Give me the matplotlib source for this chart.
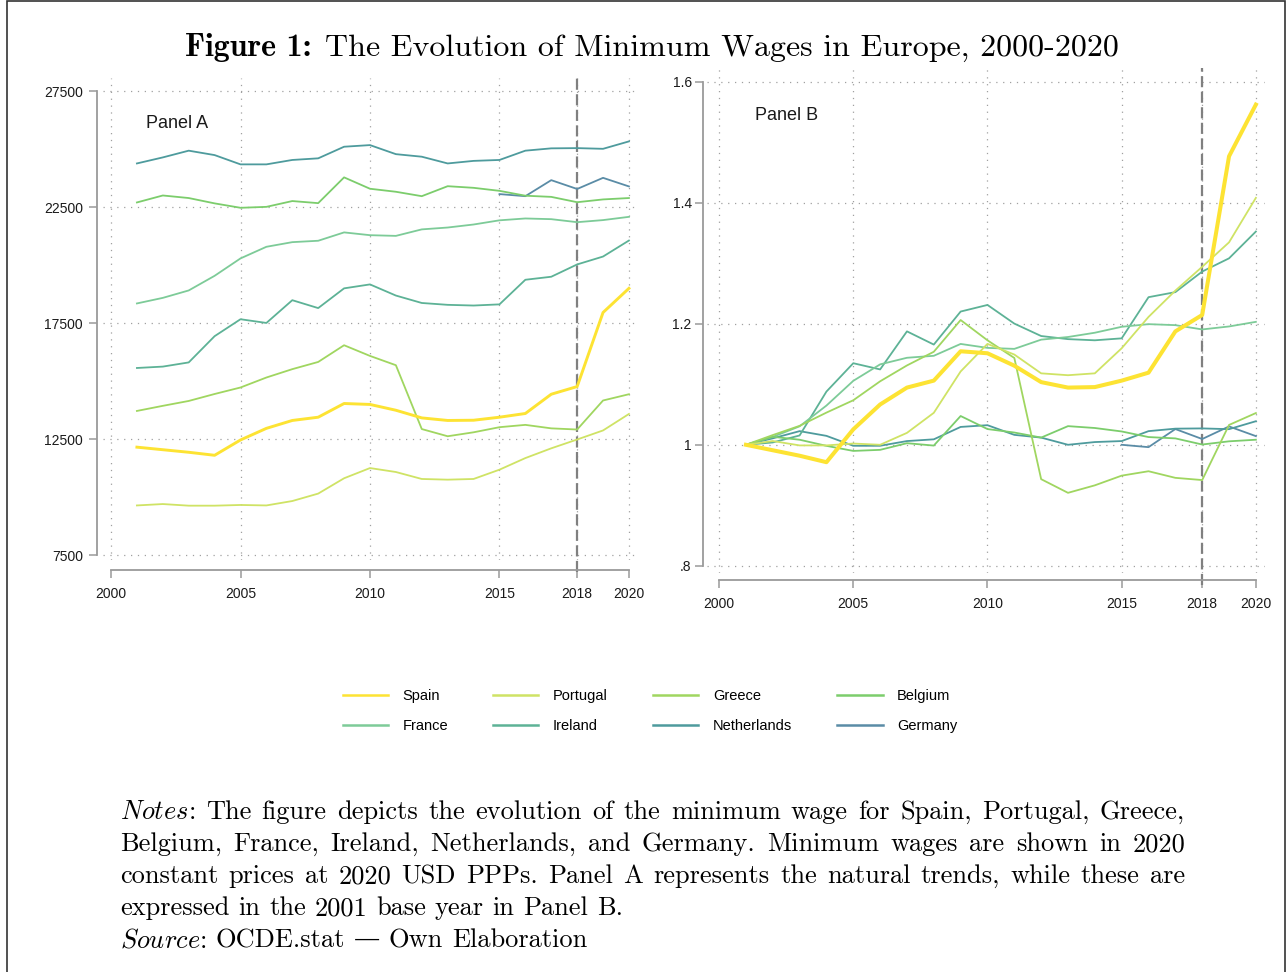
import matplotlib
matplotlib.use("Agg")
import matplotlib.pyplot as plt
from matplotlib.lines import Line2D
from matplotlib.patches import Rectangle
import numpy as np

plt.rcParams['font.family'] = ['Liberation Sans', 'DejaVu Sans']

# ---- data: annual minimum wage, 2020 constant prices, 2020 USD PPPs ----
years = list(range(2001, 2021))
germany_years = list(range(2015, 2021))

spain = [12160, 12050, 11940, 11810, 12470, 12970, 13310, 13450, 14040, 14000,
         13750, 13420, 13310, 13320, 13450, 13610, 14440, 14770, 17960, 19000]
portugal = [9650, 9710, 9640, 9640, 9670, 9650, 9840, 10160, 10820, 11260,
            11090, 10790, 10760, 10790, 11190, 11690, 12110, 12490, 12880, 13590]
greece = [13720, 13940, 14150, 14450, 14730, 15160, 15520, 15830, 16550, 16090,
          15690, 12940, 12630, 12800, 13020, 13120, 12970, 12920, 14170, 14440]
belgium = [22700, 23000, 22890, 22660, 22470, 22510, 22760, 22670, 23780, 23290,
           23160, 22970, 23400, 23330, 23200, 22990, 22940, 22710, 22830, 22890]
france = [18350, 18590, 18910, 19540, 20290, 20790, 20990, 21050, 21410, 21290,
          21260, 21540, 21620, 21750, 21930, 22010, 21980, 21850, 21940, 22080]
ireland = [15570, 15630, 15810, 16940, 17670, 17510, 18490, 18150, 19000, 19170,
           18690, 18370, 18290, 18260, 18310, 19370, 19500, 20030, 20370, 21060]
netherlands = [24380, 24640, 24930, 24740, 24340, 24340, 24530, 24600, 25100, 25170,
               24780, 24670, 24380, 24490, 24530, 24930, 25030, 25040, 25010, 25330]
germany = [23060, 22970, 23660, 23280, 23760, 23390]

countries = ["Spain", "Portugal", "Greece", "Belgium",
             "France", "Ireland", "Netherlands", "Germany"]
series = {
    "Spain": (years, spain),
    "Portugal": (years, portugal),
    "Greece": (years, greece),
    "Belgium": (years, belgium),
    "France": (years, france),
    "Ireland": (years, ireland),
    "Netherlands": (years, netherlands),
    "Germany": (germany_years, germany),
}
colors = {
    "Spain": "#FDE333",
    "Portugal": "#CFE365",
    "Greece": "#A0D660",
    "Belgium": "#7CCD6C",
    "France": "#7DCB98",
    "Ireland": "#5DB296",
    "Netherlands": "#4E9B9D",
    "Germany": "#5A8CA6",
}

xticks = [2000, 2005, 2010, 2015, 2018, 2020]
yticks_a = [7500, 12500, 17500, 22500, 27500]
yticks_b = [0.8, 1.0, 1.2, 1.4, 1.6]
ylabels_b = [".8", "1", "1.2", "1.4", "1.6"]
policy_year = 2018

# ---- figure ----
W, H = 1288, 972
fig = plt.figure(figsize=(W / 100, H / 100), dpi=100)


def px_rect(l, t, r, b):
    return [l / W, 1 - b / H, (r - l) / W, (b - t) / H]


axA = fig.add_axes(px_rect(103, 78, 638, 560))
axB = fig.add_axes(px_rect(707, 68, 1265, 573))

spine_col = "#9a9a9a"


def style(ax, xlim, ylim, yticks, ylabels, yout, xout, ypad, xpad):
    ax.set_xlim(*xlim)
    ax.set_ylim(*ylim)
    for s in ("top", "right"):
        ax.spines[s].set_visible(False)
    ax.spines["left"].set_position(("outward", yout))
    ax.spines["bottom"].set_position(("outward", xout))
    ax.spines["left"].set_bounds(yticks[0], yticks[-1])
    ax.spines["bottom"].set_bounds(xticks[0], xticks[-1])
    for s in ("left", "bottom"):
        ax.spines[s].set_color(spine_col)
        ax.spines[s].set_linewidth(1.3)
    ax.set_xticks(xticks)
    ax.set_xticklabels([str(x) for x in xticks])
    ax.set_yticks(yticks)
    ax.set_yticklabels(ylabels)
    ax.tick_params(length=6, width=1.1, color=spine_col, labelsize=10,
                   labelcolor="#1a1a1a")
    ax.tick_params(axis="y", pad=ypad)
    ax.tick_params(axis="x", pad=xpad)
    ax.grid(True, linestyle=(0, (1, 4.5)), color="#a0a0a0", lw=0.9)
    ax.set_axisbelow(True)
    ax.axvline(policy_year, ymin=-0.024, ymax=1, color="#808080", lw=1.6,
               dashes=(5, 2), clip_on=False, zorder=1)


style(axA, (1999.69, 2020.35), (7300, 28060), yticks_a,
      [str(v) for v in yticks_a], 4.5, 7.5, 4, 6)
style(axB, (1999.55, 2020.34), (0.788, 1.623), yticks_b, ylabels_b,
      3, 5, 2, 6)

for name in countries[::-1]:
    xs, vals = series[name]
    vals = np.asarray(vals, dtype=float)
    thick = name == "Spain"
    z = 5 if thick else 3
    axA.plot(xs, vals, color=colors[name], lw=2.1 if thick else 1.3, zorder=z)
    axB.plot(xs, vals / vals[0], color=colors[name], lw=2.9 if thick else 1.3,
             zorder=z)

fig.text(146 / W, 1 - 124 / H, "Panel A", fontsize=13, ha="left", va="center",
         color="#1a1a1a")
fig.text(755 / W, 1 - 116 / H, "Panel B", fontsize=13, ha="left", va="center",
         color="#1a1a1a")

# ---- legend: row-major order across four columns ----
order = ["Spain", "France", "Portugal", "Ireland",
         "Greece", "Netherlands", "Belgium", "Germany"]
handles = [Line2D([], [], color=colors[n], lw=1.8) for n in order]
fig.legend(handles, order, ncol=4, loc="center",
           bbox_to_anchor=(650 / W, 1 - 711 / H), frameon=False, fontsize=10.5,
           handlelength=3.1, handletextpad=1.0, columnspacing=3.1,
           labelspacing=1.05)

# ---- title and notes ----
serif = ["cmr10", "DejaVu Serif"]
serif_bold = ["cmb10", "DejaVu Serif"]
renderer = fig.canvas.get_renderer()


def text_width(s, size, family):
    t = fig.text(0, 0, s, fontsize=size, family=family, math_fontfamily="cm")
    w = t.get_window_extent(renderer).width
    t.remove()
    return w


title_bold = "Figure 1:"
title_rest = "The Evolution of Minimum Wages in Europe, 2000-2020"
tsize = 23
tgap = tsize * 100 / 72 * 0.4
wb = text_width(title_bold, tsize, serif_bold)
wr = text_width(title_rest, tsize, serif)
tx = 652 - (wb + tgap + wr) / 2
fig.text(tx / W, 1 - 56 / H, title_bold, fontsize=tsize, family=serif_bold,
         ha="left", va="baseline")
fig.text((tx + wb + tgap) / W, 1 - 56 / H, title_rest, fontsize=tsize,
         family=serif, ha="left", va="baseline")

fs = 19
space_w = fs * 100 / 72 * 0.333


def put_line(words, baseline, justify, x0=120, x1=1185):
    widths = [text_width(w, fs, serif) for w in words]
    gap = (x1 - x0 - sum(widths)) / (len(words) - 1) if justify else space_w
    x = x0
    for w, wd in zip(words, widths):
        fig.text(x / W, 1 - baseline / H, w, fontsize=fs, family=serif,
                 math_fontfamily="cm", ha="left", va="baseline")
        x += wd + gap


note_lines = [
    (r"$\mathit{Notes}$: The figure depicts the evolution of the minimum wage "
     r"for Spain, Portugal, Greece,", True),
    ("Belgium, France, Ireland, Netherlands, and Germany. Minimum wages are "
     "shown in 2020", True),
    ("constant prices at 2020 USD PPPs. Panel A represents the natural trends, "
     "while these are", True),
    ("expressed in the 2001 base year in Panel B.", False),
    (r"$\mathit{Source}$: OCDE.stat — Own Elaboration", False),
]
for i, (line, just) in enumerate(note_lines):
    put_line(line.split(" "), 819 + 32 * i, just)

# ---- page frame ----
fig.add_artist(Rectangle((7 / W, -0.01), (1285 - 7) / W, 1.01 - 1.5 / H,
                         transform=fig.transFigure, fill=False,
                         edgecolor="#333333", lw=1.2))

fig.savefig("out.png", dpi=100)
